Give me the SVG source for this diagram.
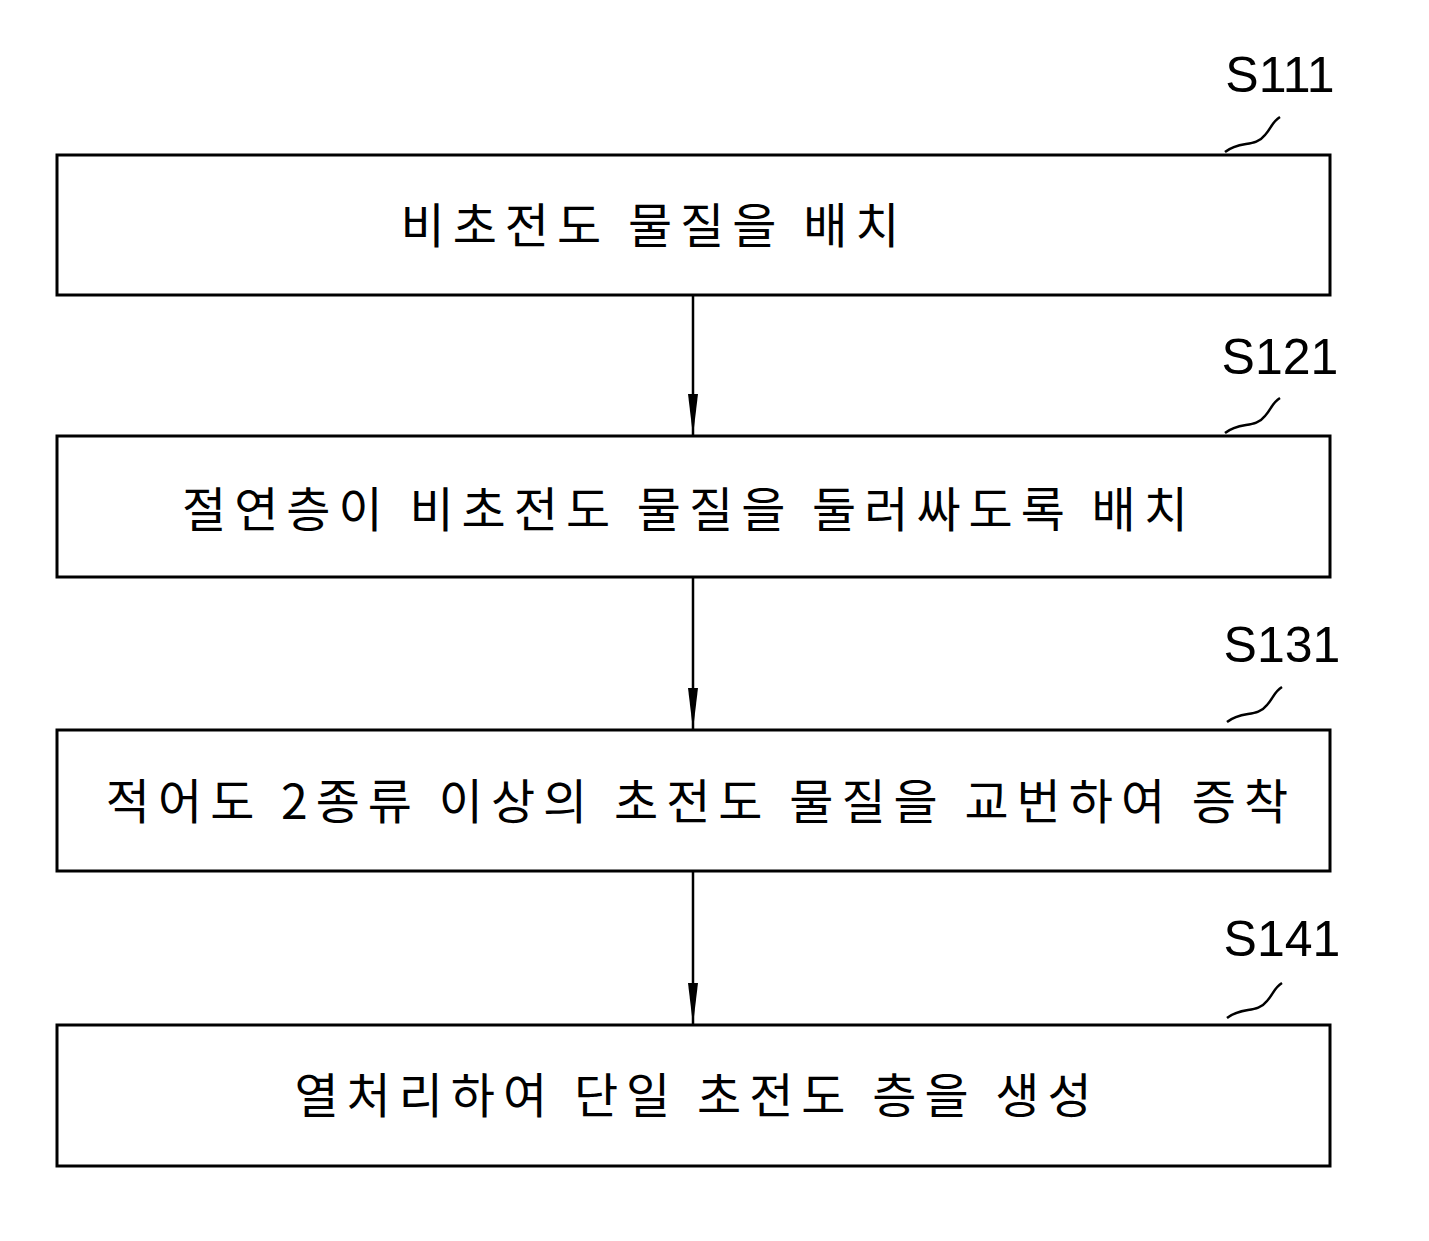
<svg xmlns="http://www.w3.org/2000/svg" width="1429" height="1241" viewBox="0 0 1429 1241">
<style>
.box{fill:#fff;stroke:#000;stroke-width:3}
.t{font-family:"Noto Sans CJK KR","Noto Sans",sans-serif;font-size:48px;fill:#000;text-anchor:middle;letter-spacing:8px}
.l{font-family:"Liberation Sans",sans-serif;font-size:50px;fill:#000;text-anchor:middle}
.sq{fill:none;stroke:#000;stroke-width:2.5}
.c{stroke:#000;stroke-width:2.5;fill:none;marker-end:url(#a)}
</style>
<defs><marker id="a" markerWidth="44" markerHeight="12" refX="42" refY="6" orient="auto" markerUnits="userSpaceOnUse"><path d="M0,1 L42,6 L0,11 Z" fill="#000"/></marker></defs>
<rect width="1429" height="1241" fill="#fff"/>
<g id="n1"><rect class="box" x="57" y="155" width="1273" height="140"/><text class="t" x="654" y="243">비초전도 물질을 배치</text><text class="l" x="1280" y="92">S111</text><path class="sq" d="M1225,152 C1240,140 1255,148 1265,135 C1272,127 1272,122 1280,117"/></g>
<g id="n2"><rect class="box" x="57" y="436" width="1273" height="141"/><text class="t" x="689" y="527">절연층이 비초전도 물질을 둘러싸도록 배치</text><text class="l" x="1280" y="374">S121</text><path class="sq" d="M1225,433 C1240,421 1255,429 1265,416 C1272,408 1272,403 1280,398"/></g>
<g id="n3"><rect class="box" x="57" y="730" width="1273" height="141"/><text class="t" x="701" y="819">적어도 2종류 이상의 초전도 물질을 교번하여 증착</text><text class="l" x="1282" y="662">S131</text><path class="sq" d="M1227,722 C1242,710 1257,718 1267,705 C1274,697 1274,692 1282,687"/></g>
<g id="n4"><rect class="box" x="57" y="1025" width="1273" height="141"/><text class="t" x="697" y="1113">열처리하여 단일 초전도 층을 생성</text><text class="l" x="1282" y="956">S141</text><path class="sq" d="M1227,1018 C1242,1006 1257,1014 1267,1001 C1274,993 1274,988 1282,983"/></g>
<g id="edges"><path class="c" d="M693,295 V436"/><path class="c" d="M693,577 V730"/><path class="c" d="M693,871 V1025"/></g>
</svg>
